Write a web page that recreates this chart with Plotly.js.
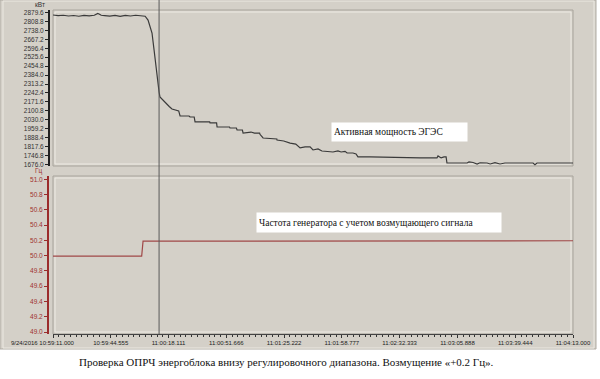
<!DOCTYPE html>
<html><head><meta charset="utf-8">
<script src="https://cdn.plot.ly/plotly-3.0.1.min.js"></script>
<style>body{margin:0;background:#fff}#c{width:600px;height:379px}</style>
</head><body><div id="c"></div>
<script>
// ---- data ----
const timeLabels = ["9/24/2016 10:59:11.000","10:59:44.555","11:00:18.111","11:00:51.666","11:01:25.222","11:01:58.777","11:02:32.333","11:03:05.888","11:03:39.444","11:04:13.000"];
const timeTickSec = [0, 33.555, 67.111, 100.666, 134.222, 167.777, 201.333, 234.888, 268.444, 302];
const powerTickLabels = ["1676.0","1746.8","1817.6","1888.4","1959.2","2030.0","2100.8","2171.6","2242.4","2313.2","2384.0","2454.8","2525.6","2596.4","2667.2","2738.0","2808.8","2879.6"];
const freqTickLabels = ["49.0","49.2","49.4","49.6","49.8","50.0","50.2","50.4","50.6","50.8","51.0"];

const powerT = [0,3,6,9,12,15,18,21,24,26,27,28,30,33,36,39,42,45,48,51,53.5,55.2,56.5,57.5,58.7,59.5,60.4,61.6,62.1,63.5,64.5,66.2,67.5,69.1,72.0,73.0,73.8,79.0,79.6,82.0,82.5,91.0,91.2,95.0,95.3,102.5,102.8,106.5,106.9,110.0,110.4,114,115,117,120.0,120.2,121.5,122,130.0,130.1,134,137.7,141,143.5,146.4,149.3,151,153.9,156.2,162.6,165.5,167.3,169.6,170.8,174.2,176,177.1,184.1,213.2,223,223.6,225.4,227.1,228.3,228.8,240.5,241.6,244,246.3,248,252.1,253.9,256.7,259.6,262.5,278.8,279.9,281.1,302];
const powerKW = [2860,2855,2858,2852,2856,2850,2857,2853,2858,2872,2866,2858,2855,2851,2856,2849,2857,2852,2858,2853,2850,2820,2760,2717,2583,2480,2369,2250,2211,2190,2175,2147,2135,2115,2108,2100,2060,2060,2052,2052,2013,2013,2005,2005,1973,1973,1965,1965,1949,1949,1925,1933,1933,1925,1925,1915,1890,1886,1878,1870,1862,1845,1838,1807,1815,1815,1791,1799,1783,1775,1783,1775,1780,1767,1767,1760,1736,1736,1728,1728,1744,1728,1736,1736,1688,1688,1696,1692,1680,1690,1688,1680,1690,1680,1688,1688,1675,1688,1688];

const freqT = [0,20,40,51.5,52.3,60,80,100,120,140,160,180,200,220,240,260,280,302];
const freqHz = [49.995,49.995,49.995,49.995,50.19,50.19,50.19,50.188,50.19,50.188,50.19,50.19,50.188,50.19,50.19,50.19,50.192,50.195];

const cursorSec = 61.6;

// ---- chart ----
const W = 525, L = 48;
const px2x = p => (p - L) / W;
const py2y = p => (334 - p) / 324;
const gray = '#d4d0c8';

const traces = [
  {x: powerT, y: powerKW, xaxis:'x', yaxis:'y', mode:'lines', line:{color:'#3a3a3a', width:1.2, shape:'linear'}, hoverinfo:'skip'},
  {x: freqT, y: freqHz, xaxis:'x', yaxis:'y2', mode:'lines', line:{color:'#a04848', width:1.2, shape:'linear'}, hoverinfo:'skip'}
];

const layout = {
  width:600, height:379,
  margin:{l:L, r:27, t:10, b:45},
  paper_bgcolor:'#ffffff', plot_bgcolor:gray,
  showlegend:false,
  font:{family:'"Liberation Sans", Arial, sans-serif', size:6.5, color:'#222'},
  xaxis:{domain:[px2x(53),1], range:[0,302], anchor:'y2', showgrid:false, zeroline:false,
    tickmode:'array', tickvals:timeTickSec, ticktext:[''].concat(timeLabels.slice(1)),
    ticks:'outside', ticklen:3, tickcolor:'#333', showline:true, linecolor:'#444', linewidth:1,
    tickfont:{size:6, color:'#222'},
    minor:{tickmode:'linear', tick0:0, dtick:302/90, ticks:'outside', ticklen:2, tickcolor:'#333'}},
  yaxis:{domain:[py2y(166),1], range:[1664.1,2899.4], anchor:'free', position:0, showgrid:false, zeroline:false,
    tickmode:'array', tickvals:powerTickLabels.map(Number), ticktext:powerTickLabels,
    ticks:'outside', ticklen:3, tickcolor:'#222', showline:true, linecolor:'#222', linewidth:1.5,
    tickfont:{size:6.5, color:'#333'}},
  yaxis2:{domain:[0,py2y(176)], range:[48.974,51.043], anchor:'free', position:0, showgrid:false, zeroline:false,
    tickmode:'array', tickvals:freqTickLabels.map(Number), ticktext:freqTickLabels,
    ticks:'outside', ticklen:3, tickcolor:'#9b2c2c', showline:true, linecolor:'#9b2c2c', linewidth:2,
    tickfont:{size:6.5, color:'#a03030'}},
  shapes:[
    {type:'rect', layer:'below', xref:'paper', yref:'paper', x0:px2x(0), x1:px2x(596), y0:py2y(349), y1:py2y(0), fillcolor:gray, line:{color:'#b0aca4', width:1}},
    {type:'rect', layer:'below', xref:'paper', yref:'paper', x0:px2x(3), x1:px2x(594), y0:py2y(348), y1:py2y(1), fillcolor:gray, line:{color:'#ece9e2', width:1}},
    {type:'rect', layer:'below', xref:'paper', yref:'y domain', x0:px2x(53), x1:1, y0:0, y1:1, fillcolor:gray, line:{color:'#a8a49c', width:1}},
    {type:'rect', layer:'below', xref:'paper', yref:'y2 domain', x0:px2x(53), x1:1, y0:0, y1:1, fillcolor:gray, line:{color:'#a8a49c', width:1}},
    {type:'rect', layer:'below', xref:'paper', yref:'paper', x0:px2x(55), x1:px2x(571), y0:py2y(164), y1:py2y(12), fillcolor:'rgba(0,0,0,0)', line:{color:'#eeebe4', width:1}},
    {type:'rect', layer:'below', xref:'paper', yref:'paper', x0:px2x(55), x1:px2x(571), y0:py2y(332), y1:py2y(178), fillcolor:'rgba(0,0,0,0)', line:{color:'#eeebe4', width:1}},
    {type:'line', xref:'x', yref:'paper', x0:cursorSec, x1:cursorSec, y0:0, y1:py2y(0), line:{color:'#5a5a5a', width:1}}
  ],
  annotations:[
    {xref:'paper', yref:'paper', x:px2x(40), y:py2y(5), text:'кВт', showarrow:false, font:{size:6.5, color:'#333'}, xanchor:'center', yanchor:'middle'},
    {xref:'paper', yref:'paper', x:px2x(39), y:py2y(171), text:'Гц', showarrow:false, font:{size:6.5, color:'#a03030'}, xanchor:'center', yanchor:'middle'},
    {xref:'paper', yref:'paper', x:px2x(77), y:py2y(343), text:timeLabels[0], showarrow:false, font:{size:6, color:'#222'}, xanchor:'right', yanchor:'middle'},
    {xref:'paper', yref:'paper', x:px2x(331), y:py2y(132), text:'Активная мощность ЭГЭС', showarrow:false, xanchor:'left', yanchor:'middle', align:'left',
      width:131, height:14, borderpad:2, bgcolor:'#ffffff', font:{family:'"Liberation Serif", "DejaVu Serif", serif', size:9.5, color:'#111'}},
    {xref:'paper', yref:'paper', x:px2x(256), y:py2y(222.5), text:'Частота генератора с учетом возмущающего сигнала', showarrow:false, xanchor:'left', yanchor:'middle', align:'left',
      width:240, height:15, borderpad:2, bgcolor:'#ffffff', font:{family:'"Liberation Serif", "DejaVu Serif", serif', size:9.5, color:'#111'}},
    {xref:'paper', yref:'paper', x:px2x(286), y:py2y(362), text:'Проверка ОПРЧ энергоблока внизу регулировочного диапазона. Возмущение «+0.2 Гц».', showarrow:false,
      xanchor:'center', yanchor:'middle', font:{family:'"Liberation Serif", "DejaVu Serif", serif', size:11, color:'#111'}}
  ]
};

Plotly.newPlot('c', traces, layout, {displayModeBar:false, staticPlot:true});
</script></body></html>
